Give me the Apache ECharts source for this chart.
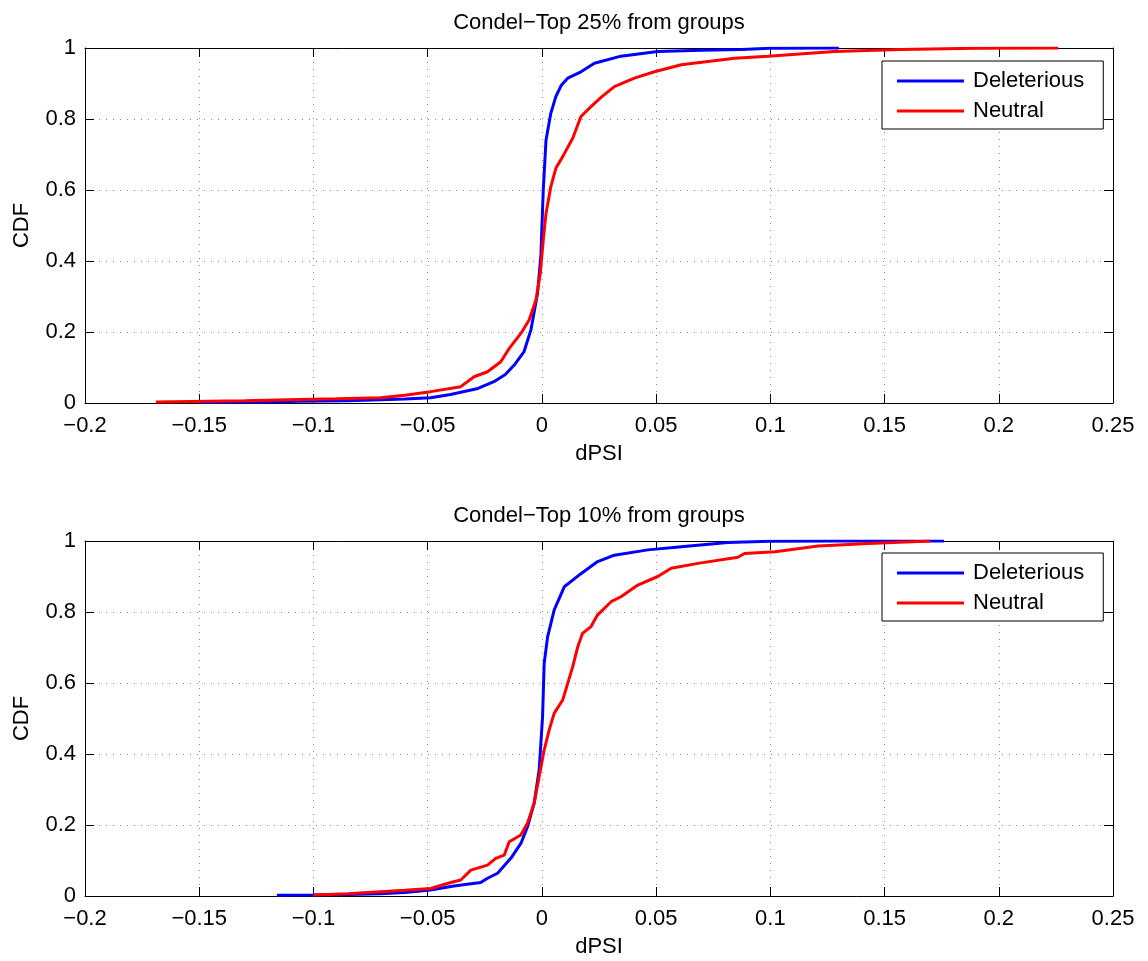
<!DOCTYPE html>
<html>
<head>
<meta charset="utf-8">
<script src="https://cdn.jsdelivr.net/npm/echarts@6/dist/echarts.min.js"></script>
<style>html,body{margin:0;padding:0;background:#fff}#c{width:1148px;height:961px}</style>
</head>
<body>
<div id="c"></div>
<script>
// ---- data ----
const titles = ['Condel\u2212Top 25% from groups', 'Condel\u2212Top 10% from groups'];
const seriesNames = ['Deleterious', 'Neutral'];
const xTicks = [-0.2, -0.15, -0.1, -0.05, 0, 0.05, 0.1, 0.15, 0.2, 0.25];
const yTicks = [0, 0.2, 0.4, 0.6, 0.8, 1];

const top25DelX = [-0.15, -0.12, -0.106, -0.085, -0.0706, -0.06, -0.0487, -0.04, -0.028, -0.021, -0.016, -0.0121, -0.0078, -0.0048, -0.0019, -0.0004, 0.0006, 0.0018, 0.0039, 0.0061, 0.0085, 0.0113, 0.0171, 0.023, 0.0346, 0.0507, 0.07, 0.0873, 0.1, 0.13];
const top25DelY = [0.002, 0.003, 0.005, 0.006, 0.009, 0.011, 0.015, 0.024, 0.041, 0.06, 0.08, 0.107, 0.145, 0.206, 0.309, 0.42, 0.6, 0.74, 0.816, 0.863, 0.895, 0.915, 0.933, 0.957, 0.977, 0.99, 0.994, 0.996, 0.999, 1.0];

const top25NeuX = [-0.169, -0.13, -0.106, -0.09, -0.0706, -0.06, -0.0487, -0.0355, -0.0297, -0.0238, -0.018, -0.0143, -0.0092, -0.0056, -0.0026, -0.0007, 0.0006, 0.0018, 0.0039, 0.0061, 0.0091, 0.0135, 0.0171, 0.0215, 0.0259, 0.0317, 0.0405, 0.0493, 0.061, 0.0844, 0.099, 0.128, 0.157, 0.19, 0.226];
const top25NeuY = [0.003, 0.006, 0.01, 0.012, 0.015, 0.022, 0.032, 0.046, 0.074, 0.088, 0.116, 0.154, 0.196, 0.234, 0.29, 0.365, 0.459, 0.534, 0.609, 0.661, 0.694, 0.746, 0.807, 0.835, 0.861, 0.891, 0.915, 0.933, 0.953, 0.971, 0.977, 0.99, 0.996, 0.999, 1.0];

const top10DelX = [-0.116, -0.1, -0.085, -0.0706, -0.06, -0.0487, -0.0385, -0.0268, -0.0238, -0.0194, -0.0136, -0.0092, -0.0063, -0.0034, -0.0012, 0.0003, 0.001, 0.0025, 0.0054, 0.0098, 0.0171, 0.0244, 0.0317, 0.0464, 0.061, 0.0814, 0.1, 0.13, 0.176];
const top10DelY = [0.002, 0.003, 0.004, 0.006, 0.01, 0.017, 0.028, 0.038, 0.05, 0.064, 0.106, 0.148, 0.195, 0.261, 0.355, 0.505, 0.655, 0.73, 0.806, 0.871, 0.908, 0.942, 0.96, 0.975, 0.984, 0.996, 0.999, 1.0, 1.0];

const top10NeuX = [-0.1, -0.085, -0.0706, -0.06, -0.0487, -0.0399, -0.0355, -0.0311, -0.0238, -0.0202, -0.0165, -0.0143, -0.0092, -0.0063, -0.0034, -0.0012, 0.001, 0.0032, 0.0054, 0.0091, 0.0113, 0.0135, 0.0157, 0.0178, 0.0215, 0.0244, 0.0303, 0.0346, 0.042, 0.0507, 0.0566, 0.0683, 0.0858, 0.0887, 0.102, 0.121, 0.143, 0.17];
const top10NeuY = [0.003, 0.006, 0.012, 0.016, 0.021, 0.038, 0.045, 0.073, 0.087, 0.106, 0.115, 0.153, 0.172, 0.205, 0.261, 0.336, 0.411, 0.468, 0.515, 0.552, 0.599, 0.646, 0.702, 0.74, 0.759, 0.792, 0.829, 0.843, 0.876, 0.9, 0.923, 0.937, 0.954, 0.965, 0.97, 0.986, 0.993, 1.0];

// ---- chart ----
const FONT = '"Liberation Sans", Arial, Helvetica, sans-serif';
const FS = 22;
const zip = (xs, ys) => xs.map((x, i) => [x, ys[i]]);
const fmtX = v => { const r = Math.round(v * 100) / 100; return (r < 0 ? '\u2212' : '') + String(Math.abs(r)); };
const fmtY = v => String(Math.round(v * 10) / 10);

const gridTops = [48, 541];
const grids = gridTops.map(t => ({ left: 85, top: t, width: 1028, height: 355, containLabel: false }));

const xMin = xTicks[0], xMax = xTicks[xTicks.length - 1], xInt = 0.05;
const yMin = yTicks[0], yMax = yTicks[yTicks.length - 1], yInt = 0.2;

const lineBlack = { show: true, onZero: false, lineStyle: { color: '#000', width: 1 } };
const tickIn = { show: true, inside: true, length: 9, lineStyle: { color: '#000', width: 1 } };
const split = { show: true, lineStyle: { color: '#8a8a8a', width: 1, type: [1, 6] } };

const xAxes = [], yAxes = [];
[0, 1].forEach(g => {
  xAxes.push({
    type: 'value', gridIndex: g, position: 'bottom', min: xMin, max: xMax, interval: xInt,
    axisLine: lineBlack, axisTick: tickIn, splitLine: split,
    axisLabel: { formatter: fmtX, color: '#000', fontSize: FS, fontFamily: FONT, margin: 12, showMinLabel: true, showMaxLabel: true },
    name: 'dPSI', nameLocation: 'middle', nameGap: 40,
    nameTextStyle: { color: '#000', fontSize: FS, fontFamily: FONT }
  });
  xAxes.push({
    type: 'value', gridIndex: g, position: 'top', min: xMin, max: xMax, interval: xInt,
    axisLine: lineBlack, axisTick: tickIn, splitLine: { show: false }, axisLabel: { show: false },
    name: titles[g], nameLocation: 'middle', nameGap: 14,
    nameTextStyle: { color: '#000', fontSize: FS, fontFamily: FONT }
  });
  yAxes.push({
    type: 'value', gridIndex: g, position: 'left', min: yMin, max: yMax, interval: yInt,
    axisLine: lineBlack, axisTick: tickIn, splitLine: split,
    axisLabel: { formatter: fmtY, color: '#000', fontSize: FS, fontFamily: FONT, margin: 9 },
    name: 'CDF', nameLocation: 'middle', nameGap: 52, nameRotate: 90,
    nameTextStyle: { color: '#000', fontSize: FS, fontFamily: FONT }
  });
  yAxes.push({
    type: 'value', gridIndex: g, position: 'right', min: yMin, max: yMax, interval: yInt,
    axisLine: lineBlack, axisTick: tickIn, splitLine: { show: false }, axisLabel: { show: false }
  });
});

const mk = (name, data, g, color) => ({
  type: 'line', name, data, xAxisIndex: g * 2, yAxisIndex: g * 2,
  showSymbol: false, symbol: 'none', lineStyle: { color, width: 3 }, itemStyle: { color },
  animation: false, z: 3
});

const series = [
  mk(seriesNames[0], zip(top25DelX, top25DelY), 0, '#0000ff'),
  mk(seriesNames[1], zip(top25NeuX, top25NeuY), 0, '#ff0000'),
  mk(seriesNames[0], zip(top10DelX, top10DelY), 1, '#0000ff'),
  mk(seriesNames[1], zip(top10NeuX, top10NeuY), 1, '#ff0000')
];

const legendTops = [61, 553];
const legends = legendTops.map(t => ({
  data: seriesNames, orient: 'vertical', left: 882, top: t,
  icon: 'rect', itemWidth: 67, itemHeight: 3, itemGap: 4,
  backgroundColor: '#fff', borderColor: '#000', borderWidth: 1, borderRadius: 0,
  padding: [7, 19, 5, 15],
  textStyle: { color: '#000', fontSize: FS, fontFamily: FONT, lineHeight: 26, padding: [0, 0, 0, 4] },
  selectedMode: false
}));

const chart = echarts.init(document.getElementById('c'), null, { renderer: 'canvas' });
chart.setOption({
  backgroundColor: '#fff',
  animation: false,
  grid: grids,
  xAxis: xAxes,
  yAxis: yAxes,
  legend: legends,
  series
});
</script>
</body>
</html>
